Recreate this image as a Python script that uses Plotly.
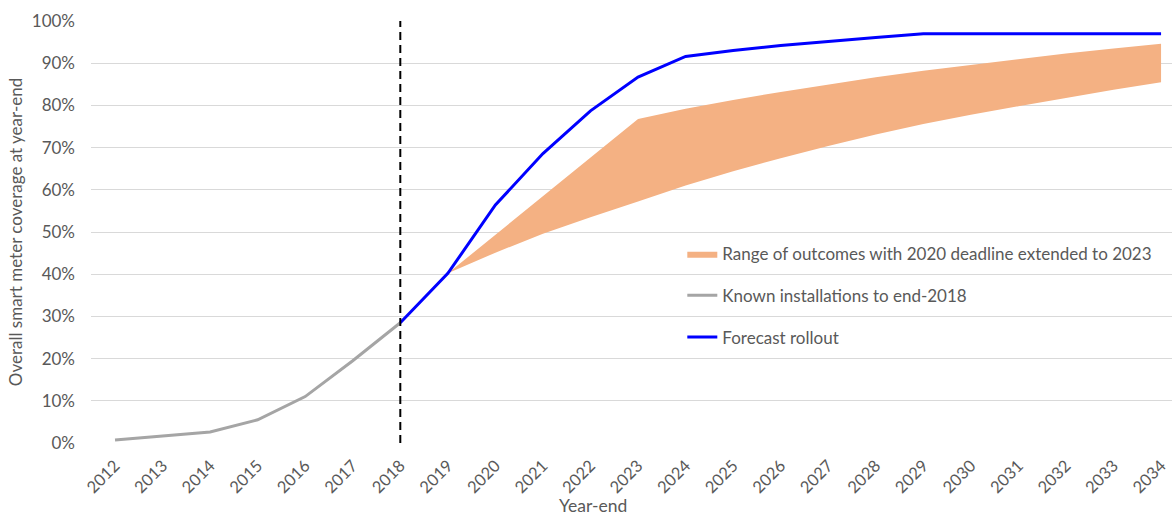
import plotly.graph_objects as go

# Smart meter coverage at year-end (%)
known_years = [2012, 2013, 2014, 2015, 2016, 2017, 2018]
known_cov = [0.7, 1.7, 2.6, 5.5, 11.0, 19.5, 28.5]

forecast_years = list(range(2018, 2035))
forecast_cov = [28.5, 40.2, 56.4, 68.6, 78.7, 86.7, 91.6, 93.0, 94.2, 95.2,
                96.1, 97.0, 97.0, 97.0, 97.0, 97.0, 97.0]

range_years = list(range(2019, 2035))
range_low = [40.2, 45.1, 49.6, 53.5, 57.2, 61.0, 64.4, 67.5, 70.4, 73.1,
             75.6, 77.8, 79.8, 81.8, 83.7, 85.5]
range_high = [40.2, 49.4, 58.5, 67.6, 76.8, 79.2, 81.3, 83.2, 85.0, 86.7,
              88.2, 89.6, 91.0, 92.3, 93.5, 94.6]

tick_years = list(range(2012, 2035))
y_ticks = list(range(0, 101, 10))
y_tick_labels = [f"{v}%" for v in y_ticks]

FONT = "Lato"
TXT = "#595959"

fig = go.Figure()

# Range band: lower edge (hidden) then upper edge filled down to it
fig.add_trace(go.Scatter(
    x=range_years, y=range_low, mode="lines", line=dict(width=0),
    showlegend=False, hoverinfo="skip", legendgroup="a",
))
fig.add_trace(go.Scatter(
    x=range_years, y=range_high, mode="lines", line=dict(width=0),
    fill="tonexty", fillcolor="#F4B183",
    name="Range of outcomes with 2020 deadline extended to 2023",
    legendgroup="a",
))
fig.add_trace(go.Scatter(
    x=known_years, y=known_cov, mode="lines",
    line=dict(color="#A5A5A5", width=3),
    name="Known installations to end-2018", legendgroup="b",
))
fig.add_trace(go.Scatter(
    x=forecast_years, y=forecast_cov, mode="lines",
    line=dict(color="#0000FF", width=3),
    name="Forecast rollout", legendgroup="c",
))

# Boundary between known data and forecast
fig.add_shape(type="line", x0=2018, x1=2018, y0=0, y1=100,
              xref="x", yref="y",
              line=dict(color="black", width=2, dash="8px,5px"))

# X-axis title
fig.add_annotation(text="Year-end", xref="paper", yref="paper",
                   x=(593 - 91) / 1081, y=-(505 - 443) / 422,
                   xanchor="center", yanchor="middle", showarrow=False,
                   font=dict(family=FONT, size=17.5, color=TXT))

fig.update_layout(
    width=1172, height=516,
    margin=dict(l=91, r=0, t=21, b=73),
    paper_bgcolor="white", plot_bgcolor="white",
    font=dict(family=FONT, color=TXT, size=17),
    legend=dict(
        x=0.547, y=0.49, xanchor="left", yanchor="top",
        bgcolor="rgba(0,0,0,0)", font=dict(size=17, color=TXT),
        tracegroupgap=16.5, itemwidth=30,
    ),
    showlegend=True,
)
fig.update_xaxes(
    range=[2011.495, 2034.23],
    tickvals=tick_years, ticktext=[str(y) for y in tick_years],
    tickangle=-45, showgrid=False, zeroline=False, showline=False,
    ticks="", tickfont=dict(size=16.5, color=TXT), ticklabelstandoff=9,
)
fig.update_yaxes(
    range=[0, 100], tickvals=y_ticks, ticktext=y_tick_labels,
    showgrid=True, gridcolor="#D9D9D9", gridwidth=1, zeroline=False,
    showline=False, ticks="", tickfont=dict(size=17, color=TXT),
    ticklabelstandoff=15,
    title=dict(text="Overall smart meter coverage at year-end",
               font=dict(size=17, color=TXT), standoff=4),
)

fig.write_html("out.html")
